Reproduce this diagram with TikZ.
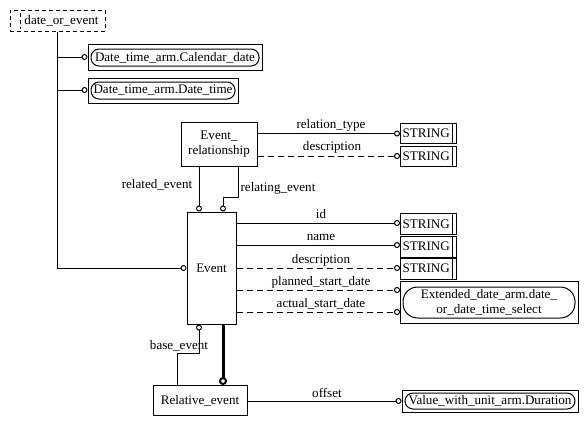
\documentclass[tikz,border=0pt]{standalone}
\usepackage{fontspec}
\setmainfont{Liberation Serif}
\usetikzlibrary{arrows.meta}
\begin{document}
\begin{tikzpicture}[x=0.75pt,y=-0.75pt,
  every node/.style={font=\fontsize{9.8}{11}\selectfont, inner sep=0pt},
  box/.style={draw, line width=0.75pt, rectangle},
  rbox/.style={draw, line width=0.75pt, rounded corners=#1},
  strbox/.style={draw, line width=0.75pt, minimum width=42pt, minimum height=15pt},
  lbl/.style={anchor=center},
  conn/.style={line width=0.75pt, -{Circle[open,length=4.5pt,width=4.5pt,line width=0.75pt]}},
  dconn/.style={conn, dash pattern=on 4.5pt off 3pt},
  plain/.style={line width=0.75pt}
]
\useasboundingbox (0,0) rectangle (588,425);

% date_or_event (select)
\node[box, dash pattern=on 3pt off 2.25pt, minimum width=71.25pt, minimum height=15.75pt] (doe) at (57.5,20.5) {\hspace*{6pt}date\_or\_event};
\draw[line width=0.75pt, dash pattern=on 3pt off 2.25pt] (20,13) -- (20,29);

% Calendar_date
\node[box, minimum width=130.5pt, minimum height=19.5pt] (cal) at (175,57) {};
\node[rbox=6pt, minimum width=126pt, minimum height=12.75pt] (calt) at (175,57.5) {Date\_time\_arm.Calendar\_date};
% Date_time
\node[box, minimum width=112.5pt, minimum height=18.75pt] (dt) at (163,90.5) {};
\node[rbox=6pt, minimum width=108pt, minimum height=12.75pt] (dtt) at (163,90.5) {Date\_time\_arm.Date\_time};

% Event_relationship
\node[box, minimum width=57pt, minimum height=33pt, align=center] (er) at (219,144) {Event\_\\relationship};

% STRING boxes
\foreach \n/\y in {s1/133.5, s2/156}{
  \node[strbox, minimum height=15pt] (\n) at (428.5,\y) {\hspace*{-3.5pt}STRING};
  \draw[line width=0.75pt] ([xshift=-3.75pt]\n.north east) -- ([xshift=-3.75pt]\n.south east);
}
\foreach \n/\y in {s3/224, s4/246.5, s5/268.5}{
  \node[strbox, minimum height=15.75pt] (\n) at (428.5,\y) {\hspace*{-3.5pt}STRING};
  \draw[line width=0.75pt] ([xshift=-3.75pt]\n.north east) -- ([xshift=-3.75pt]\n.south east);
}

% Event
\node[box, minimum width=36.75pt, minimum height=84pt] (ev) at (211.5,268) {Event};

% Extended
\node[box, minimum width=133.5pt, minimum height=31.5pt] (ext) at (489,302.5) {};
\node[rbox=11pt, minimum width=129pt, minimum height=23.25pt, align=center] (extt) at (489,302.5) {Extended\_date\_arm.date\_\\or\_date\_time\_select};

% Relative_event
\node[box, minimum width=70.5pt, minimum height=22.5pt] (rel) at (200,400.5) {Relative\_event};

% Duration
\node[box, minimum width=132pt, minimum height=16.5pt] (dur) at (490,401) {};
\node[rbox=6pt, minimum width=127.5pt, minimum height=12pt] (durt) at (490,401) {Value\_with\_unit\_arm.Duration};

% trunk from date_or_event
\coordinate (t0) at (57,31);
\coordinate (t1) at (57,57);
\coordinate (t2) at (57,90);
\coordinate (t3) at (57,268);
\draw[plain] (doe.south -| t0) -- (t3);
\draw[conn] (t1) -- (cal.west |- t1);
\draw[conn] (t2) -- (dt.west |- t2);
\draw[conn] (t3) -- (ev.west |- t3);

% Event_relationship attributes
\draw[conn] (er.east |- s1.west) -- (s1.west);
\draw[dconn] (er.east |- s2.west) -- (s2.west);
\node[lbl] at (331,125.5) {relation\_type};
\node[lbl] at (332,147.5) {description};

% related / relating
\coordinate (ra) at (199,166);
\draw[conn] (er.south -| ra) -- (ev.north -| ra);
\coordinate (rb1) at (238,197);
\coordinate (rb2) at (223,197);
\draw[conn] (er.south -| rb1) -- (rb1) -- (rb2) -- (ev.north -| rb2);
\node[lbl] at (157,185) {related\_event};
\node[lbl] at (278,188) {relating\_event};

% Event attributes
\coordinate (y1) at (0,223);
\coordinate (y2) at (0,245);
\coordinate (y3) at (0,268);
\coordinate (e1) at (400,290);
\coordinate (e2) at (400,312);
\draw[conn] (ev.east |- y1) -- (s3.west |- y1);
\draw[conn] (ev.east |- y2) -- (s4.west |- y2);
\draw[dconn] (ev.east |- y3) -- (s5.west |- y3);
\draw[dconn] (ev.east |- e1) -- (e1);
\draw[dconn] (ev.east |- e2) -- (e2);
\node[lbl] at (321,214.5) {id};
\node[lbl] at (321,237) {name};
\node[lbl] at (321,260) {description};
\node[lbl] at (321,282) {planned\_start\_date};
\node[lbl] at (321,304) {actual\_start\_date};

% base_event
\coordinate (b1) at (177,353);
\coordinate (b2) at (199,353);
\draw[conn] (rel.north -| b1) -- (b1) -- (b2) -- (ev.south -| b2);
\node[lbl] at (179,346) {base\_event};

% thick
\coordinate (th) at (223,324);
\draw[line width=2.25pt, -{Circle[open,length=6pt,width=6pt,line width=1.5pt]}] (ev.south -| th) -- (rel.north -| th);

% offset
\draw[conn] (rel.east |- dur.west) -- (dur.west);
\node[lbl] at (327,392.5) {offset};
\end{tikzpicture}
\end{document}
